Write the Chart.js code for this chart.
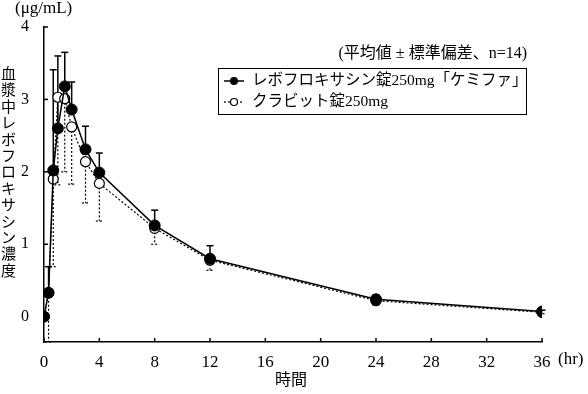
<!DOCTYPE html>
<html><head><meta charset="utf-8">
<script src="https://cdn.jsdelivr.net/npm/chart.js@4/dist/chart.umd.min.js"></script>
<style>html,body{margin:0;padding:0;background:#fff}#wrap{width:588px;height:394px}</style>
</head><body><div id="wrap"><canvas id="c" width="588" height="394"></canvas></div>
<script>
const times = [0, 0.33, 0.67, 1, 1.5, 2, 3, 4, 8, 12, 24, 36];
const chemiphaMean = [0, 0.33, 2.02, 2.6, 3.18, 2.86, 2.31, 1.99, 1.26, 0.80, 0.24, 0.07];
const chemiphaSD = [0, 0.36, 1.39, 1.0, 0.47, 0.38, 0.32, 0.27, 0.21, 0.18, 0.06, 0.02];
const cravitMean = [0, 0.33, 1.90, 3.03, 3.01, 2.62, 2.14, 1.84, 1.22, 0.78, 0.22, 0.06];
const cravitSD = [0, 0.68, 1.21, 1.21, 1.01, 0.79, 0.57, 0.52, 0.22, 0.14, 0.06, 0.02];
const xTicks = [0, 4, 8, 12, 16, 20, 24, 28, 32, 36];
const yTicks = [0, 1, 2, 3, 4];
const seriesNames = ['レボフロキサシン錠250mg「ケミファ」', 'クラビット錠250mg'];
const yTitle = '血漿中レボフロキサシン濃度';
const yUnit = '(μg/mL)';
const xTitle = '時間';
const xUnit = '(hr)';
const note = '(平均値 ± 標準偏差、n=14)';

const FONT = "'Liberation Serif', 'Noto Sans CJK JP', serif";

const extras = {
  id: 'extras',
  beforeDatasetsDraw(chart) {
    const ctx = chart.ctx, xs = chart.scales.x, ys = chart.scales.y;
    ctx.save();
    ctx.strokeStyle = '#000';
    ctx.lineWidth = 1.2; ctx.setLineDash([2, 2]);
    times.forEach((t, i) => {
      if (!cravitSD[i]) return;
      const x = xs.getPixelForValue(t), y0 = ys.getPixelForValue(cravitMean[i]), y1 = ys.getPixelForValue(cravitMean[i] - cravitSD[i]);
      ctx.beginPath(); ctx.moveTo(x, y0); ctx.lineTo(x, y1); ctx.stroke();
      ctx.beginPath(); ctx.moveTo(x - 3.5, y1); ctx.lineTo(x + 3.5, y1); ctx.stroke();
    });
    ctx.setLineDash([]); ctx.lineWidth = 1.5;
    times.forEach((t, i) => {
      if (!chemiphaSD[i]) return;
      const x = xs.getPixelForValue(t), y0 = ys.getPixelForValue(chemiphaMean[i]), y1 = ys.getPixelForValue(chemiphaMean[i] + chemiphaSD[i]);
      ctx.beginPath(); ctx.moveTo(x, y0); ctx.lineTo(x, y1); ctx.stroke();
      ctx.beginPath(); ctx.moveTo(x - 3.5, y1); ctx.lineTo(x + 3.5, y1); ctx.stroke();
    });
    ctx.restore();
  },
  afterDraw(chart) {
    const ctx = chart.ctx, xs = chart.scales.x, ys = chart.scales.y, ca = chart.chartArea;
    ctx.save();
    ctx.strokeStyle = '#000'; ctx.fillStyle = '#000'; ctx.lineWidth = 1.5;
    xTicks.forEach(v => { const x = xs.getPixelForValue(v); ctx.beginPath(); ctx.moveTo(x, ca.bottom); ctx.lineTo(x, ca.bottom - 4); ctx.stroke(); });
    yTicks.forEach(v => { const y = ys.getPixelForValue(v); ctx.beginPath(); ctx.moveTo(ca.left, y); ctx.lineTo(ca.left + 4, y); ctx.stroke(); });
    ctx.textBaseline = 'middle';
    ctx.font = '17px ' + FONT; ctx.textAlign = 'left';
    ctx.fillText(yUnit, 15, 9);
    ctx.fillText(xUnit, 558, 360);
    ctx.font = '16px ' + FONT; ctx.textAlign = 'center';
    ctx.fillText(xTitle, 291, 381);
    ctx.font = '15px ' + FONT;
    Array.from(yTitle).forEach((ch, i) => ctx.fillText(ch, 8.5, 75 + i * 16.4));
    ctx.font = '16px ' + FONT; ctx.textAlign = 'right';
    ctx.fillText(note, 527, 54);
    ctx.lineWidth = 1; ctx.strokeRect(218.5, 68.5, 308, 46);
    ctx.textAlign = 'left'; ctx.font = '15.5px ' + FONT;
    let y = 81;
    ctx.lineWidth = 1.5; ctx.beginPath(); ctx.moveTo(224, y); ctx.lineTo(244, y); ctx.stroke();
    ctx.beginPath(); ctx.arc(234, y, 4, 0, Math.PI * 2); ctx.fill();
    ctx.fillText(seriesNames[0], 252, y);
    y = 102;
    ctx.lineWidth = 1.2; ctx.setLineDash([2, 2]); ctx.beginPath(); ctx.moveTo(224, y); ctx.lineTo(244, y); ctx.stroke();
    ctx.setLineDash([]);
    ctx.beginPath(); ctx.arc(234, y, 3.5, 0, Math.PI * 2); ctx.fillStyle = '#fff'; ctx.fill(); ctx.stroke();
    ctx.fillStyle = '#000';
    ctx.fillText(seriesNames[1], 252, y);
    ctx.restore();
  }
};

new Chart(document.getElementById('c'), {
  type: 'line',
  data: {
    datasets: [
      {
        label: seriesNames[0],
        data: times.map((t, i) => ({ x: t, y: chemiphaMean[i] })),
        borderColor: '#000', backgroundColor: '#000', borderWidth: 1.5,
        pointRadius: 5.5, pointBackgroundColor: '#000', pointBorderColor: '#000', pointBorderWidth: 1,
        tension: 0, order: 0
      },
      {
        label: seriesNames[1],
        data: times.map((t, i) => ({ x: t, y: cravitMean[i] })),
        borderColor: '#000', backgroundColor: '#fff', borderWidth: 1.2, borderDash: [2, 2],
        pointRadius: 5, pointBackgroundColor: '#fff', pointBorderColor: '#000', pointBorderWidth: 1.2,
        tension: 0, order: 1
      }
    ]
  },
  options: {
    responsive: false, animation: false, devicePixelRatio: 1,
    layout: { padding: { left: 0, right: 46, top: 27, bottom: 0 } },
    plugins: { legend: { display: false }, tooltip: { enabled: false } },
    scales: {
      x: {
        type: 'linear', min: 0, max: 36,
        afterBuildTicks: s => { s.ticks = xTicks.map(v => ({ value: v })); },
        afterFit: s => { s.height = 52; },
        grid: { display: false },
        border: { display: true, color: '#000', width: 1.5 },
        ticks: { color: '#000', font: { family: FONT, size: 17 }, padding: 2, maxRotation: 0, autoSkip: false }
      },
      y: {
        type: 'linear', min: -0.35, max: 4,
        afterBuildTicks: s => { s.ticks = yTicks.map(v => ({ value: v })); },
        afterFit: s => { s.width = 44; },
        grid: { display: false },
        border: { display: true, color: '#000', width: 1.5 },
        ticks: { color: '#000', font: { family: FONT, size: 16 }, padding: 7 }
      }
    }
  },
  plugins: [extras]
});
</script></body></html>
